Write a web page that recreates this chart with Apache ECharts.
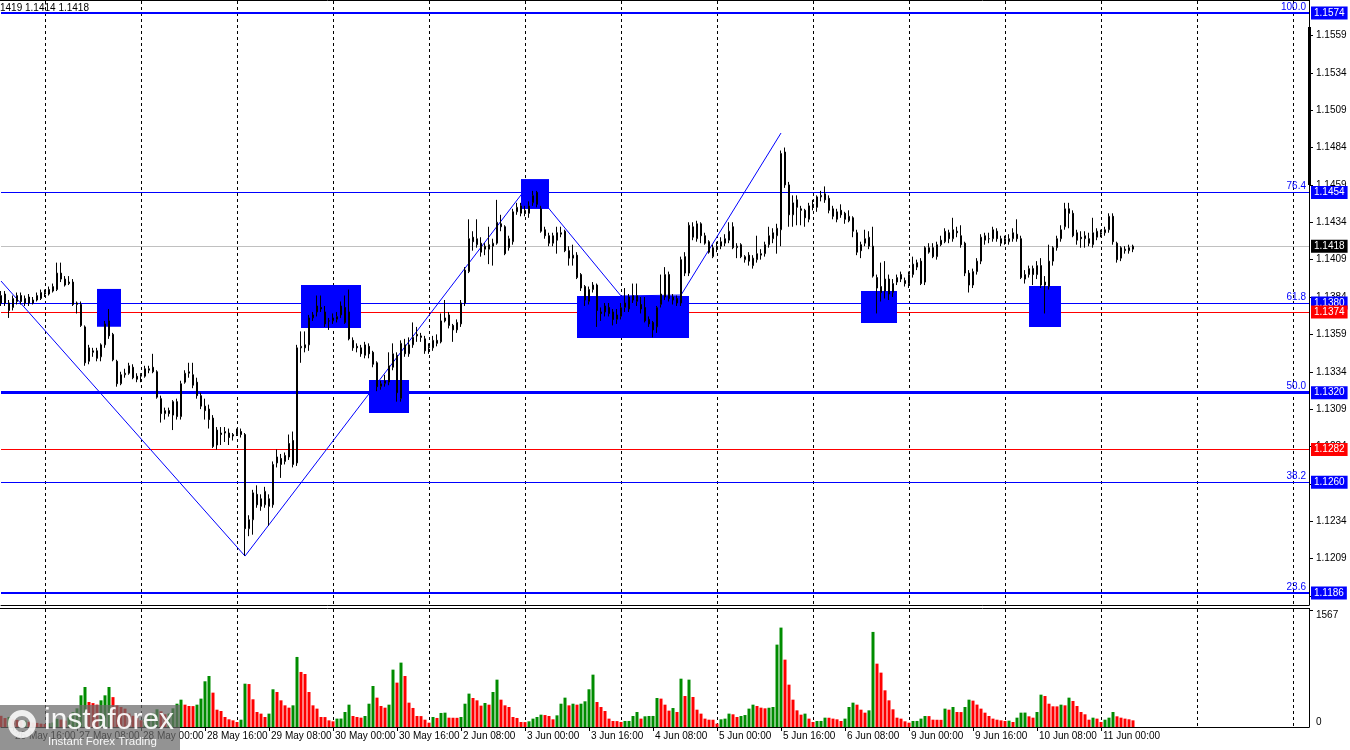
<!DOCTYPE html>
<html><head><meta charset="utf-8">
<script src="https://cdn.jsdelivr.net/npm/echarts@6.0.0/dist/echarts.min.js"></script>
<style>html,body{margin:0;padding:0;background:#fff;overflow:hidden}#c{width:1350px;height:750px}</style>
</head><body><div id="c"></div>
<script>
// ---- data ----
const tradingDays = ['26 May','27 May','28 May','29 May','30 May','2 Jun','3 Jun','4 Jun','5 Jun','6 Jun','9 Jun','10 Jun','11 Jun','12 Jun','13 Jun'];
const firstHour = 13;
// hourly candles [open, high, low, close] in 1/10000 units
const ohlc = [
[11380,11388,11378,11385],[11380,11388,11378,11386],[11380,11382,11370,11375],[11377,11385,11375,11383],[11381,11387,11379,11385],[11385,11387,11379,11381],[11380,11385,11378,11383],[11384,11386,11378,11380],
[11380,11384,11379,11382],[11382,11387,11381,11385],[11383,11389,11382,11387],[11387,11389,11384,11386],[11386,11391,11385,11389],[11388,11393,11387,11391],[11389,11407,11388,11400],[11400,11407,11394,11396],
[11396,11398,11391,11392],[11393,11398,11392,11394],[11394,11396,11378,11379],[11379,11381,11373,11380],[11379,11381,11364,11365],[11364,11365,11338,11340],[11341,11352,11339,11350],[11347,11350,11344,11348],
[11348,11350,11341,11343],[11344,11353,11341,11352],[11352,11368,11350,11366],[11368,11376,11356,11358],[11359,11360,11341,11342],[11341,11342,11324,11326],[11326,11334,11325,11332],[11332,11336,11330,11333],
[11333,11340,11332,11338],[11337,11339,11329,11330],[11331,11333,11327,11329],[11331,11333,11327,11332],[11331,11338,11330,11336],[11335,11338,11333,11336],[11337,11346,11333,11334],[11334,11335,11316,11317],
[11316,11318,11300,11306],[11306,11310,11302,11308],[11308,11310,11304,11306],[11305,11315,11295,11314],[11314,11316,11302,11304],[11304,11328,11302,11326],[11327,11335,11326,11333],[11333,11340,11330,11334],
[11332,11340,11323,11325],[11327,11330,11316,11318],[11318,11320,11309,11311],[11311,11316,11302,11308],[11309,11312,11296,11302],[11303,11305,11283,11284],[11285,11297,11282,11295],[11293,11297,11285,11292],
[11293,11297,11287,11294],[11293,11296,11285,11290],[11291,11293,11288,11292],[11292,11296,11291,11295],[11294,11296,11290,11292],[11292,11293,11211,11229],[11229,11238,11224,11235],[11235,11255,11225,11253],
[11252,11258,11243,11245],[11249,11252,11241,11244],[11245,11257,11243,11254],[11249,11252,11231,11244],[11245,11274,11243,11272],[11273,11282,11270,11277],[11276,11279,11263,11272],[11274,11280,11272,11278],
[11286,11292,11275,11277],[11288,11294,11270,11272],[11273,11352,11271,11350],[11350,11361,11340,11351],[11352,11361,11347,11350],[11352,11372,11348,11370],[11370,11374,11368,11372],[11374,11385,11371,11378],
[11377,11385,11374,11376],[11374,11378,11364,11366],[11368,11370,11362,11368],[11368,11373,11366,11370],[11369,11374,11367,11371],[11372,11381,11370,11378],[11377,11385,11366,11367],[11374,11389,11355,11356],
[11355,11357,11348,11350],[11351,11353,11347,11350],[11350,11352,11344,11346],[11345,11354,11343,11352],[11351,11353,11343,11346],[11347,11348,11337,11339],[11340,11341,11321,11324],[11324,11328,11322,11326],
[11326,11332,11324,11328],[11327,11347,11325,11338],[11337,11353,11335,11346],[11345,11347,11314,11320],[11316,11355,11314,11353],[11352,11356,11344,11346],[11346,11357,11344,11352],[11352,11367,11350,11357],
[11359,11364,11354,11358],[11358,11360,11354,11357],[11356,11358,11346,11348],[11350,11353,11346,11351],[11350,11358,11348,11355],[11355,11359,11351,11353],[11354,11373,11353,11368],[11368,11382,11367,11370],
[11372,11374,11363,11365],[11365,11366,11354,11362],[11362,11369,11360,11367],[11366,11382,11364,11380],[11380,11404,11378,11402],[11401,11436,11400,11423],[11424,11428,11415,11421],[11419,11436,11417,11423],
[11420,11424,11411,11414],[11416,11420,11412,11418],[11416,11431,11406,11419],[11418,11423,11405,11420],[11420,11449,11419,11434],[11433,11439,11428,11431],[11431,11432,11412,11413],[11417,11425,11415,11423],
[11421,11443,11419,11441],[11441,11447,11439,11444],[11440,11447,11438,11445],[11440,11445,11438,11442],[11440,11448,11437,11445],[11447,11455,11445,11452],[11454,11455,11444,11446],[11443,11445,11427,11428],
[11429,11431,11423,11425],[11425,11427,11418,11420],[11420,11427,11418,11425],[11427,11431,11413,11422],[11426,11431,11424,11427],[11428,11429,11414,11415],[11415,11418,11405,11410],[11410,11419,11405,11412],
[11412,11414,11396,11397],[11399,11400,11388,11390],[11391,11392,11378,11382],[11381,11391,11379,11389],[11389,11394,11387,11392],[11392,11393,11364,11375],[11374,11377,11368,11373],[11374,11380,11371,11378],
[11377,11380,11371,11373],[11374,11376,11365,11369],[11369,11376,11366,11372],[11371,11380,11369,11377],[11377,11390,11374,11380],[11376,11386,11374,11384],[11385,11393,11380,11382],[11381,11393,11378,11385],
[11379,11384,11373,11376],[11377,11384,11367,11368],[11369,11371,11364,11366],[11367,11368,11357,11362],[11364,11378,11360,11377],[11379,11399,11377,11386],[11384,11404,11382,11399],[11399,11401,11381,11383],
[11384,11386,11379,11382],[11383,11385,11378,11380],[11380,11411,11378,11409],[11411,11414,11398,11400],[11400,11434,11398,11432],[11424,11434,11422,11431],[11423,11435,11421,11433],[11433,11434,11420,11425],
[11425,11427,11419,11420],[11421,11422,11413,11414],[11411,11419,11410,11417],[11416,11421,11414,11418],[11418,11424,11416,11421],[11420,11426,11418,11423],[11422,11434,11420,11428],[11431,11434,11416,11417],
[11417,11420,11410,11418],[11419,11420,11410,11411],[11409,11412,11407,11411],[11412,11414,11405,11408],[11405,11412,11403,11410],[11409,11425,11407,11413],[11412,11416,11409,11413],[11413,11421,11411,11419],
[11419,11431,11417,11425],[11423,11430,11420,11427],[11425,11433,11413,11430],[11429,11482,11418,11480],[11481,11484,11457,11459],[11459,11461,11431,11439],[11439,11452,11431,11447],[11449,11452,11432,11444],
[11443,11445,11432,11442],[11442,11443,11431,11437],[11436,11447,11434,11445],[11446,11449,11442,11444],[11444,11452,11441,11451],[11451,11455,11448,11452],[11453,11458,11447,11449],[11450,11452,11440,11442],
[11443,11445,11436,11438],[11436,11443,11434,11441],[11442,11446,11437,11439],[11440,11441,11433,11436],[11435,11442,11434,11438],[11437,11438,11424,11428],[11427,11429,11412,11414],[11419,11421,11410,11415],
[11420,11429,11418,11423],[11418,11428,11416,11424],[11418,11431,11397,11398],[11397,11399,11373,11390],[11391,11407,11381,11387],[11388,11408,11383,11396],[11396,11399,11382,11386],[11387,11396,11384,11393],
[11394,11399,11392,11397],[11399,11401,11394,11396],[11395,11397,11391,11393],[11393,11401,11390,11399],[11399,11411,11397,11406],[11404,11409,11402,11407],[11408,11410,11392,11393],[11394,11418,11392,11417],
[11414,11420,11413,11417],[11417,11420,11410,11411],[11411,11421,11409,11419],[11419,11425,11418,11422],[11421,11430,11420,11428],[11427,11429,11420,11423],[11423,11437,11421,11429],[11428,11431,11424,11427],
[11425,11432,11417,11419],[11420,11421,11398,11400],[11400,11402,11387,11392],[11392,11403,11390,11401],[11401,11410,11399,11408],[11408,11426,11406,11424],[11422,11427,11419,11425],[11423,11427,11420,11423],
[11423,11431,11421,11429],[11428,11430,11421,11423],[11423,11425,11418,11420],[11421,11425,11419,11423],[11421,11426,11419,11423],[11423,11430,11421,11427],[11426,11436,11421,11423],[11423,11425,11396,11397],
[11396,11402,11393,11399],[11399,11405,11397,11403],[11403,11405,11392,11399],[11399,11408,11396,11405],[11405,11410,11390,11392],[11394,11398,11373,11392],[11391,11419,11389,11408],[11408,11418,11405,11417],
[11417,11425,11415,11423],[11423,11432,11421,11429],[11431,11447,11429,11443],[11443,11447,11430,11440],[11440,11442,11424,11425],[11427,11429,11419,11422],[11424,11428,11417,11423],[11423,11428,11417,11425],
[11423,11427,11418,11420],[11419,11437,11417,11427],[11424,11430,11422,11428],[11427,11429,11424,11426],[11427,11431,11425,11429],[11429,11440,11427,11438],[11438,11440,11419,11421],[11420,11421,11407,11409],
[11410,11418,11408,11417],[11415,11418,11413,11416],[11415,11419,11413,11417],[11416,11419,11414,11418]
];
const volumes = [
150,120,135,110,95,80,85,70,60,55,45,40,50,60,110,100,85,130,200,250,424,536,335,320,300,357,424,536,400,290,268,246,180,150,120,90,110,160,190,237,210,170,180,250,312,
366,299,281,280,299,380,612,683,460,232,214,134,103,89,67,98,580,575,371,201,179,134,179,505,469,357,290,259,290,938,737,710,469,290,246,134,133,89,76,112,113,201,299,147,134,125,147,312,549,393,281,259,299,768,594,862,683,326,255,147,146,98,58,134,121,188,192,125,124,123,134,312,447,388,357,286,321,299,469,634,366,290,268,134,121,67,66,76,112,134,165,160,147,103,156,
312,393,290,312,299,312,344,505,701,335,268,214,112,80,79,67,
80,81,147,201,112,143,147,148,388,380,299,219,254,201,647,415,634,402,232,179,112,98,97,45,
103,112,179,170,134,147,160,246,299,281,259,250,258,268,1103,1331,902,567,366,223,165,179,112,67,
80,81,125,124,112,103,80,112,268,326,299,232,192,223,1273,848,728,491,357,237,125,112,76,58,
80,81,112,147,146,98,97,96,246,232,268,201,200,268,366,353,300,246,192,147,112,98,89,80,
85,67,125,192,193,143,125,201,433,415,312,277,276,299,290,393,348,281,201,170,98,125,112,67,
98,125,201,143,125,112,103,89
];
const priceTicks = [1.1184,1.1209,1.1234,1.1259,1.1284,1.1309,1.1334,1.1359,1.1384,1.1409,1.1434,1.1459,1.1484,1.1509,1.1534,1.1559];
const volumeMaxLabel = 1567;
const fiboPrices = [1.1574,1.1454,1.1380,1.1320,1.1260,1.1186];
const fiboNames = ['100.0','76.4','61.8','50.0','38.2','23.6'];
const redLevels = [1.1374,1.1282];
const lastPrice = 1.1418;
const zigzagIdx = [0,61,132,155,170,195];
const zigzagPrice = [1.13947,1.12107,1.14593,1.13847,1.13853,1.14937];
// [start bar, end bar, low price, high price]
const boxes = [
[24,30,1.13641,1.13894],[75,90,1.13633,1.13920],[92,102,1.13064,1.13285],[130,137,1.14429,1.14629],
[144,172,1.13566,1.13847],[215,224,1.13666,1.13881],[257,265,1.13640,1.13914]
];
const headerText = '1419 1.1414 1.1418';
const logoText = 'instaforex';
const logoSub = 'Instant Forex Trading';

// ---- build ----
const FONT = 'Liberation Sans';
const N = 328;
const cats = [];
tradingDays.forEach((d, k) => { for (let h = (k === 0 ? firstHour : 0); h < 24; h++) cats.push(d + ' ' + String(h).padStart(2, '0') + ':00'); });
cats.length = N;
const isMidnight = (i) => !!cats[i] && cats[i].endsWith(' 00:00');
const showLabel = (i) => i < ohlc.length && ((i - 35) % 16 + 16) % 16 === 0;

const candleData = ohlc.map(r => [r[0] / 1e4, r[3] / 1e4, r[2] / 1e4, r[1] / 1e4]);
const volData = volumes.map((v, i) => ({ value: v, itemStyle: { color: (i > 0 && v > volumes[i - 1]) ? '#008c00' : '#ff0000' } }));
const zz = new Array(N).fill(null);
zigzagIdx.forEach((ix, k) => { zz[ix] = zigzagPrice[k]; });

const fiboWidths = [2, 1, 1, 3, 1, 2];
const levelLines = [];
fiboPrices.forEach((p, k) => levelLines.push({ yAxis: p, lineStyle: { color: '#0000ff', width: fiboWidths[k], type: 'solid' }, label: { show: true, formatter: fiboNames[k] } }));
redLevels.forEach(p => levelLines.push({ yAxis: p, lineStyle: { color: '#ff0000', width: 1, type: 'solid' }, label: { show: false } }));
levelLines.push({ yAxis: lastPrice, lineStyle: { color: '#c0c0c0', width: 1, type: 'solid' }, label: { show: false } });

const tagLines = [];
fiboPrices.forEach(p => tagLines.push({ yAxis: p, label: { formatter: p.toFixed(4), backgroundColor: '#0000ff' } }));
redLevels.forEach(p => tagLines.push({ yAxis: p, label: { formatter: p.toFixed(4), backgroundColor: '#ff0000' } }));
tagLines.push({ yAxis: lastPrice, label: { formatter: lastPrice.toFixed(4), backgroundColor: '#000000' } });

const PX_PER_UNIT = 14948;
const yTopPrice = 1.1574 + 12 / PX_PER_UNIT;
const yBotPrice = 1.1574 - 592 / PX_PER_UNIT;

const dashed = { show: true, interval: (i) => isMidnight(i), lineStyle: { color: '#000', width: 1, type: [3, 3] } };

const chart = echarts.init(document.getElementById('c'), null, { renderer: 'canvas' });
chart.setOption({
  animation: false,
  backgroundColor: '#ffffff',
  textStyle: { fontFamily: FONT },
  title: { text: headerText, left: 0, top: 3, padding: 0, textStyle: { fontSize: 10, fontWeight: 'normal', color: '#000', fontFamily: FONT } },
  grid: [
    { left: 1, right: 41, top: 1, height: 604 },
    { left: 1, right: 41, top: 609, height: 118 }
  ],
  xAxis: [
    { type: 'category', gridIndex: 0, data: cats, boundaryGap: false,
      axisLine: { show: true, lineStyle: { color: '#000', width: 1 } }, axisTick: { show: false }, axisLabel: { show: false },
      splitLine: dashed },
    { type: 'category', gridIndex: 1, data: cats, boundaryGap: false,
      axisLine: { show: true, lineStyle: { color: '#000', width: 1 } },
      axisTick: { show: true, interval: (i) => showLabel(i), length: 4, lineStyle: { color: '#000' } },
      axisLabel: { show: true, interval: (i) => showLabel(i), align: 'left', margin: 4, fontSize: 10, color: '#000', fontFamily: FONT, padding: [0, 0, 0, 2], hideOverlap: false },
      splitLine: dashed }
  ],
  yAxis: [
    { type: 'value', gridIndex: 0, position: 'right', min: yBotPrice, max: yTopPrice, scale: true,
      axisLine: { show: true, lineStyle: { color: '#000', width: 1 } },
      axisTick: { show: true, customValues: priceTicks, length: 4, lineStyle: { color: '#000' } },
      axisLabel: { show: true, customValues: priceTicks, formatter: (v) => v.toFixed(4), margin: 7, fontSize: 10, color: '#000', fontFamily: FONT },
      splitLine: { show: false } },
    { type: 'value', gridIndex: 1, position: 'right', min: 0, max: 1580,
      axisLine: { show: true, lineStyle: { color: '#000', width: 1 } },
      axisTick: { show: true, customValues: [volumeMaxLabel], length: 4, lineStyle: { color: '#000' } },
      axisLabel: { show: true, customValues: [volumeMaxLabel], formatter: (v) => String(v), verticalAlign: 'top', margin: 7, fontSize: 10, color: '#000', fontFamily: FONT },
      splitLine: { show: false } },
    { type: 'value', gridIndex: 1, position: 'right', min: 0, max: 1580,
      axisLine: { show: false }, axisTick: { show: false },
      axisLabel: { show: true, customValues: [0], formatter: (v) => String(v), verticalAlign: 'bottom', margin: 7, fontSize: 10, color: '#000', fontFamily: FONT },
      splitLine: { show: false } }
  ],
  series: [
    { name: 'levels', type: 'line', xAxisIndex: 0, yAxisIndex: 0, data: [], silent: true, z: 1,
      markLine: { silent: true, symbol: ['none', 'none'], precision: 6, z: 1, animation: false,
        label: { show: true, position: 'insideEndTop', color: '#0000ff', fontSize: 10, fontFamily: FONT, distance: [3, 1] },
        data: levelLines } },
    { name: 'zigzag', type: 'line', xAxisIndex: 0, yAxisIndex: 0, data: zz, connectNulls: true, showSymbol: false, symbol: 'none', silent: true, z: 2,
      lineStyle: { color: '#0000ff', width: 1 } },
    { name: 'boxes', type: 'line', xAxisIndex: 0, yAxisIndex: 0, data: [], silent: true, z: 3,
      markArea: { silent: true, z: 3, itemStyle: { color: '#0000ff', opacity: 1 },
        data: boxes.map(b => [{ xAxis: cats[b[0]], yAxis: b[2] }, { xAxis: cats[b[1]], yAxis: b[3] }]) } },
    { name: 'EURUSD', type: 'candlestick', xAxisIndex: 0, yAxisIndex: 0, data: candleData, z: 5, barWidth: 2, silent: true,
      itemStyle: { color: '#ffffff', color0: '#000000', borderColor: '#000000', borderColor0: '#000000', borderColorDoji: '#000000', borderWidth: 1 } },
    { name: 'tags', type: 'line', xAxisIndex: 0, yAxisIndex: 0, data: [], silent: true, z: 10,
      markLine: { silent: true, symbol: ['none', 'none'], precision: 6, z: 10, lineStyle: { color: 'rgba(0,0,0,0)', width: 1 },
        label: { show: true, position: 'end', distance: 2, color: '#ffffff', fontSize: 10, fontFamily: FONT, padding: [2, 3, 1, 3], align: 'left' },
        data: tagLines } },
    { name: 'Volumes', type: 'bar', xAxisIndex: 1, yAxisIndex: 1, data: volData, barWidth: 3, silent: true, z: 3 }
  ],
  graphic: [
    { type: 'line', shape: { x1: 0, y1: 0.5, x2: 1310, y2: 0.5 }, style: { stroke: '#000', lineWidth: 1 }, z: 50 },
    { type: 'line', shape: { x1: 0, y1: 608.5, x2: 1310, y2: 608.5 }, style: { stroke: '#000', lineWidth: 1 }, z: 50 },
    { type: 'rect', shape: { x: 1308, y: 27, width: 3, height: 158 }, style: { fill: '#000' }, z: 50 },
    { type: 'rect', shape: { x: 0, y: 705, width: 180, height: 45 }, style: { fill: 'rgba(105,105,105,0.72)' }, z: 100 },
    { type: 'ring', shape: { cx: 22, cy: 724, r: 14, r0: 8 }, style: { fill: 'rgba(255,255,255,0.85)' }, z: 101 },
    { type: 'circle', shape: { cx: 22, cy: 724, r: 4 }, style: { fill: 'rgba(255,255,255,0.85)' }, z: 101 },
    { type: 'text', x: 44, y: 706, z: 101, style: { text: logoText, fill: 'rgba(255,255,255,0.92)', fontSize: 30, fontFamily: FONT, textVerticalAlign: 'top', verticalAlign: 'top' } },
    { type: 'text', x: 48, y: 736, z: 101, style: { text: logoSub, fill: 'rgba(255,255,255,0.92)', fontSize: 11.5, fontFamily: FONT, verticalAlign: 'top' } }
  ]
});
</script>
</body></html>
